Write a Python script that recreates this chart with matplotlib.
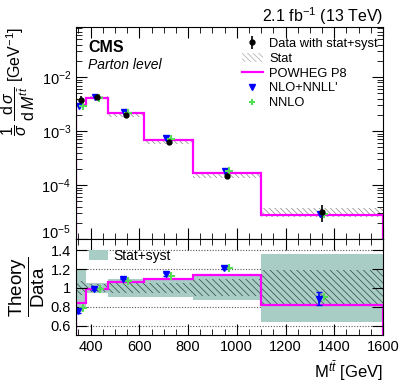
import matplotlib
matplotlib.use("Agg")
import matplotlib.pyplot as plt
import numpy as np
from matplotlib.ticker import MultipleLocator, FixedLocator, LogLocator, NullFormatter
from matplotlib.lines import Line2D
from matplotlib.patches import Patch
from matplotlib.collections import LineCollection
from matplotlib.container import ErrorbarContainer

plt.rcParams['font.family'] = ['Liberation Sans', 'DejaVu Sans']
plt.rcParams['mathtext.fontset'] = 'custom'
plt.rcParams['mathtext.rm'] = 'Liberation Sans'
plt.rcParams['mathtext.it'] = 'Liberation Sans:italic'
plt.rcParams['mathtext.bf'] = 'Liberation Sans:bold'
plt.rcParams['hatch.linewidth'] = 0.5

# bin edges in M(tt) [GeV]
edges = [340, 380, 470, 620, 820, 1100, 1600]
centers = [360, 425, 545, 720, 960, 1350]

# normalised cross section [GeV^-1]
data = [3.7e-3, 4.2e-3, 1.95e-3, 6.2e-4, 1.48e-4, 3.2e-5]
tot_rel = [0.20, 0.05, 0.10, 0.10, 0.13, 0.36]     # stat+syst
stat_rel = [0.07, 0.045, 0.055, 0.055, 0.09, 0.19]  # stat only
powheg = [3.06e-3, 4.12e-3, 2.13e-3, 6.7e-4, 1.70e-4, 2.8e-5]
nnll = [2.86e-3, 4.2e-3, 2.22e-3, 7.3e-4, 1.85e-4, 2.85e-5]
nnlo = [2.95e-3, 4.1e-3, 2.12e-3, 7.0e-4, 1.80e-4, 2.9e-5]

# theory / data
r_powheg = [0.84, 0.994, 1.064, 1.093, 1.135, 0.823]
r_nnll = [0.75, 0.99, 1.10, 1.145, 1.217, 0.887]
r_nnll_err = [0.02, 0.01, 0.01, 0.015, 0.02, 0.065]
r_nnlo = [0.79, 0.99, 1.075, 1.128, 1.21, 0.90]

x_nnll = [350, 414, 534, 709, 948, 1338]
x_nnlo = [370, 440, 555, 730, 968, 1357]

fig = plt.figure(figsize=(3.99, 3.85), dpi=100)
ax = fig.add_axes([76/399, 1-239/385, 307/399, 212/385])
ax2 = fig.add_axes([76/399, 1-335/385, 307/399, 96/385], sharex=ax)

widths = np.diff(edges)
d = np.array(data)
st = np.array(stat_rel)
tt = np.array(tot_rel)

# main panel
ax.bar(edges[:-1], 2*d*st, bottom=d*(1-st), width=widths, align='edge',
       fill=False, hatch='\\\\\\\\\\\\', edgecolor='#888888', linewidth=0)
ax.stairs(powheg, edges, color='#ff00ff', lw=1.6)
ax.errorbar(centers, data, yerr=d*tt, fmt='o', color='black', ms=3.5, lw=1.2, capsize=0)
ax.plot(np.array(centers) - 9, nnll, 'v', color='#0000ff', ms=4.5, ls='none')
ax.plot(np.array(centers) + 9, nnlo, '+', color='#55dd55', ms=5.5, mew=1.5, ls='none')

ax.set_yscale('log')
ax.set_ylim(1e-5, 0.085)
ax.set_xlim(340, 1600)
ax.yaxis.set_major_locator(FixedLocator([1e-5, 1e-4, 1e-3, 1e-2]))
ax.yaxis.set_minor_locator(LogLocator(base=10, subs=np.arange(2, 10), numticks=20))
ax.yaxis.set_minor_formatter(NullFormatter())
ax.tick_params(labelbottom=False)
ax.set_ylabel(r'$\dfrac{1}{\sigma}\;\dfrac{\mathrm{d}\,\sigma}{\mathrm{d}\,M^{t\bar{t}}}$ [GeV$^{-1}$]',
              fontsize=11.5, loc='top', labelpad=3)

h_data = ErrorbarContainer((Line2D([], [], marker='o', color='black', ms=3.5, ls='none'), (),
                            (LineCollection([], color='black', lw=1.2),)),
                           has_xerr=False, has_yerr=True)
h_stat = Patch(facecolor='none', edgecolor='#aaaaaa', hatch='\\\\\\\\\\\\', linewidth=0)
h_pow = Line2D([], [], color='#ff00ff', lw=1.6)
h_nnll = Line2D([], [], marker='v', color='#0000ff', ms=4, ls='none')
h_nnlo = Line2D([], [], marker='+', color='#55dd55', ms=5, mew=1.5, ls='none')
ax.legend([h_data, h_stat, h_pow, h_nnll, h_nnlo],
          ['Data with stat+syst', 'Stat', 'POWHEG P8', "NLO+NNLL'", 'NNLO'],
          loc='upper left', bbox_to_anchor=(0.52, 0.98), frameon=False, fontsize=9.3,
          handlelength=1.6, handletextpad=0.5, labelspacing=0.22, borderpad=0)

ax.text(0.04, 0.88, 'CMS', transform=ax.transAxes, fontsize=11.5, fontweight='bold')
ax.text(0.04, 0.80, 'Parton level', transform=ax.transAxes, fontsize=10, style='italic')
fig.text(383/399, 1-22/385, r'2.1 fb$^{-1}$ (13 TeV)', ha='right', fontsize=11.5)

# ratio panel
ax2.bar(edges[:-1], 2*tt, bottom=1-tt, width=widths, align='edge',
        color='#a8cdc5', linewidth=0)
ax2.bar(edges[:-1], 2*st, bottom=1-st, width=widths, align='edge',
        fill=False, hatch='\\\\\\\\\\', edgecolor='#2f4a45', linewidth=0)
for yv in [0.6, 0.8, 1.2, 1.4]:
    ax2.axhline(yv, color='#555555', ls=(0, (1, 1.5)), lw=0.8, zorder=0.5)
ax2.stairs(r_powheg, edges, color='#ff00ff', lw=1.6)
ax2.errorbar(x_nnll, r_nnll, yerr=r_nnll_err, fmt='v', color='#0000ff', ms=4.5, lw=1.2, capsize=2)
ax2.plot(x_nnlo, r_nnlo, '+', color='#55dd55', ms=5.5, mew=1.5, ls='none')
ax2.set_ylim(0.5, 1.52)
ax2.set_yticks([0.6, 0.8, 1.0, 1.2, 1.4])
ax2.set_yticklabels(['0.6', '0.8', '1', '1.2', '1.4'])
ax2.xaxis.set_major_locator(MultipleLocator(200))
ax2.xaxis.set_minor_locator(MultipleLocator(50))
ax2.set_ylabel(r'$\dfrac{\mathrm{Theory}}{\mathrm{Data}}$', fontsize=13.5, labelpad=3)
ax2.set_xlabel(r'M$^{t\bar{t}}$ [GeV]', fontsize=12, loc='right')
ax2.legend([Patch(facecolor='#a8cdc5')], ['Stat+syst'], loc='upper left',
           bbox_to_anchor=(0.01, 1.0), frameon=False, fontsize=10,
           handlelength=1.4, handletextpad=0.4, borderpad=0.2)

for a in (ax, ax2):
    a.tick_params(which='both', direction='in', top=True, right=True, labelsize=10.5)
    a.tick_params(which='major', length=8)
    a.tick_params(which='minor', length=4)

# lift the lowest main-panel label so it does not run into the ratio panel
ax.yaxis.get_major_ticks()[0].label1.set_va('baseline')

fig.savefig('out.png', dpi=100)
